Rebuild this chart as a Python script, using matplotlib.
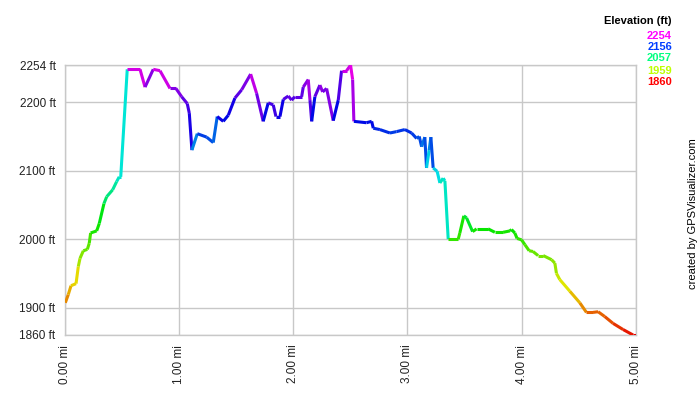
import numpy as np
import matplotlib
matplotlib.use("Agg")
import matplotlib.pyplot as plt
from matplotlib.collections import LineCollection
import colorsys

plt.rcParams['font.family'] = ['Liberation Sans', 'DejaVu Sans']

# Track: distance (mi) and elevation (ft)
dist_mi = [0.0, 0.026, 0.05, 0.094, 0.114, 0.129, 0.158, 0.193, 0.21, 0.222,
           0.275, 0.298, 0.339, 0.363, 0.415, 0.45, 0.473, 0.486, 0.543,
           0.655, 0.699, 0.771, 0.83, 0.918, 0.97, 1.02, 1.069, 1.087, 1.11,
           1.157, 1.239, 1.297, 1.332, 1.385, 1.429, 1.487, 1.546, 1.625,
           1.677, 1.735, 1.779, 1.823, 1.847, 1.882, 1.911, 1.955, 1.984,
           2.013, 2.072, 2.086, 2.13, 2.145, 2.16, 2.188, 2.232, 2.256, 2.291,
           2.349, 2.393, 2.422, 2.466, 2.501, 2.519, 2.53, 2.64, 2.686, 2.7,
           2.758, 2.846, 2.904, 2.977, 3.036, 3.08, 3.103, 3.124, 3.152, 3.167,
           3.19, 3.205, 3.225, 3.26, 3.284, 3.313, 3.328, 3.357, 3.445, 3.459,
           3.494, 3.518, 3.571, 3.606, 3.707, 3.766, 3.839, 3.898, 3.912,
           3.941, 3.961, 4.0, 4.029, 4.067, 4.1, 4.145, 4.19, 4.263, 4.292,
           4.306, 4.335, 4.423, 4.511, 4.569, 4.627, 4.671, 4.729, 4.802,
           4.89, 4.978, 5.0]
elev_ft = [1907, 1919, 1932, 1935, 1960, 1972, 1983, 1985, 1994, 2009,
           2012, 2023, 2052, 2062, 2072, 2084, 2091, 2091, 2248,
           2248, 2222, 2248, 2246, 2220, 2220, 2208, 2198, 2184, 2130,
           2154, 2149, 2141, 2179, 2172, 2181, 2206, 2218, 2241,
           2213, 2172, 2199, 2196, 2179, 2179, 2204, 2209, 2203,
           2208, 2208, 2222, 2233, 2203, 2172, 2208, 2225, 2215, 2220,
           2173, 2203, 2246, 2246, 2254, 2233, 2172, 2170, 2172, 2162,
           2160, 2155, 2157, 2160, 2155, 2147, 2150, 2135, 2149, 2104,
           2130, 2149, 2104, 2099, 2082, 2089, 2085, 2000, 2000, 2009,
           2034, 2031, 2011, 2015, 2015, 2010, 2010, 2012, 2014,
           2009, 2001, 1999, 1992, 1983, 1982, 1976, 1976, 1970, 1965,
           1950, 1941, 1924, 1907, 1893, 1893, 1894, 1887, 1877,
           1868, 1860, 1860]

y_ticks = [1860, 1900, 2000, 2100, 2200, 2254]
x_ticks = [0, 1, 2, 3, 4, 5]
legend_vals = [2254, 2156, 2057, 1959, 1860]

emin, emax = 1860, 2254


def elev_color(e, v=0.9):
    h = (e - emin) / (emax - emin) * 300.0 / 360.0
    return colorsys.hsv_to_rgb(h, 1.0, v)


fig = plt.figure(figsize=(7, 4), dpi=100)
ax = fig.add_axes([0.0933, 0.1625, 0.8147, 0.6745])

x = np.array(dist_mi)
y = np.array(elev_ft)
pts = np.column_stack([x, y])
segs = np.stack([pts[:-1], pts[1:]], axis=1)
cols = [elev_color(e) for e in y[:-1]]
lc = LineCollection(segs, colors=cols, linewidths=2.2, capstyle='butt', joinstyle='miter', zorder=3)
ax.add_collection(lc)

ax.set_xlim(0, 5)
ax.set_ylim(emin, emax)
ax.set_xticks(x_ticks)
ax.set_xticklabels([f"{t:.2f} mi" for t in x_ticks], rotation=90, fontsize=8.5)
ax.set_yticks(y_ticks)
ax.set_yticklabels([f"{t} ft" for t in y_ticks], fontsize=8.5)
ax.tick_params(length=0, pad=7, colors='#222222')
ax.grid(True, color='#c8c8c8', linewidth=1.0, zorder=0)
for s in ax.spines.values():
    s.set_color('#c8c8c8')
    s.set_linewidth(1.0)

fig.text(672 / 700, 1 - 21 / 400, "Elevation (ft)", ha='right', va='center',
         fontsize=8, fontweight='bold', color='#000000')
leg_y = [36, 47, 58, 71, 82]
for v, py in zip(legend_vals, leg_y):
    fig.text(672 / 700, 1 - py / 400, str(v), ha='right', va='center',
             fontsize=8, fontweight='bold', color=elev_color(v, 1.0))

fig.text(693 / 700, 1 - 214 / 400, "created by GPSVisualizer.com", rotation=90,
         ha='center', va='center', fontsize=8, color='#000000')

fig.savefig("out.png", dpi=100)
